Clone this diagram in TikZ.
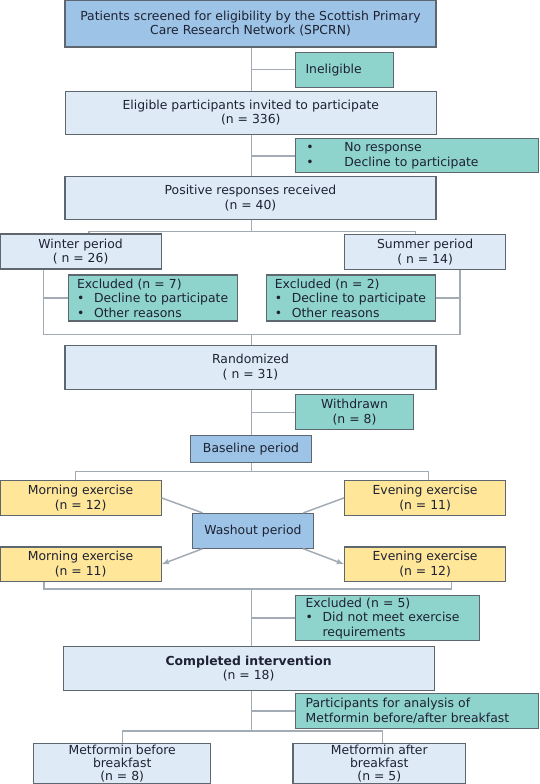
\documentclass[tikz,border=0pt]{standalone}
\usepackage{fontspec}
\setmainfont{DejaVu Sans}
\usepackage{xcolor}
\usetikzlibrary{positioning,arrows}
\definecolor{keyblue}{HTML}{9DC3E6}
\definecolor{paleblue}{HTML}{DEEBF7}
\definecolor{sideteal}{HTML}{8ED3CC}
\definecolor{armyellow}{HTML}{FFE699}
\definecolor{edgegrey}{HTML}{5E6670}
\definecolor{linkgrey}{HTML}{A3ABB4}
\definecolor{inkcol}{HTML}{1E2233}
\newcommand{\bul}[2]{\makebox[#1][l]{•}\mbox{#2}}

\begin{document}
\begin{tikzpicture}[x=1pt,y=-1pt,
    every node/.style={draw=edgegrey,line width=1.1pt,inner sep=0pt,text=inkcol,
      font=\fontsize{12.4}{14.6}\selectfont},
    mainbox/.style={fill=paleblue,align=center},
    keybox/.style={fill=keyblue,align=center},
    sidebox/.style={fill=sideteal,align=left},
    armbox/.style={fill=armyellow,align=center},
    link/.style={draw=linkgrey,line width=1.5pt},
    arr/.style={link,-latex}]
    \useasboundingbox (0,0) rectangle (540,784);
    \node[keybox,minimum width=371pt,minimum height=47pt] (Screen) at (250.5,23.5)
      {Patients screened for eligibility by the Scottish Primary\\Care Research Network (SPCRN)};
    \node[sidebox,minimum width=98pt,minimum height=35pt,text width=78pt] (Inel) at (344.5,69.7) {Ineligible};
    \node[mainbox,minimum width=371pt,minimum height=43pt] (Elig) at (250.8,112.8)
      {Eligible participants invited to participate\\(n = 336)};
    \node[sidebox,minimum width=243pt,minimum height=34pt,text width=221pt] (NoResp) at (416.9,155.9)
      {\bul{38pt}{No response}\\\bul{38pt}{Decline to participate}};
    \node[mainbox,minimum width=371pt,minimum height=43pt] (Pos) at (250.5,198)
      {Positive responses received\\(n = 40)};
    \node[mainbox,minimum width=161pt,minimum height=35pt] (Winter) at (80.6,251.5) {Winter period\\( n = 26)};
    \node[mainbox,minimum width=161pt,minimum height=35pt] (Summer) at (425.1,252) {Summer period\\( n = 14)};
    \node[sidebox,minimum width=169pt,minimum height=46pt,text width=152pt] (ExclW) at (153,298)
      {Excluded (n = 7)\\\bul{17pt}{Decline to participate}\\\bul{17pt}{Other reasons}};
    \node[sidebox,minimum width=169pt,minimum height=46pt,text width=152pt] (ExclS) at (350.8,298)
      {Excluded (n = 2)\\\bul{17pt}{Decline to participate}\\\bul{17pt}{Other reasons}};
    \node[mainbox,minimum width=371pt,minimum height=44pt] (Rand) at (250.5,367.4) {Randomized\\( n = 31)};
    \node[sidebox,align=center,minimum width=118pt,minimum height=35pt] (Withd) at (354.5,412.4) {Withdrawn\\(n = 8)};
    \node[keybox,minimum width=121pt,minimum height=27pt] (Base) at (251,448.6) {Baseline period};
    \node[armbox,minimum width=161pt,minimum height=34.5pt] (MornA) at (80.6,497.9) {Morning exercise\\(n = 12)};
    \node[armbox,minimum width=161pt,minimum height=34.5pt] (EveA) at (425.1,497.9) {Evening exercise\\(n = 11)};
    \node[keybox,minimum width=121.6pt,minimum height=34.7pt] (Wash) at (252.9,530.8) {Washout period};
    \node[armbox,minimum width=161pt,minimum height=34.5pt] (MornB) at (80.6,564.2) {Morning exercise\\(n = 11)};
    \node[armbox,minimum width=161pt,minimum height=34.5pt] (EveB) at (425.1,564.2) {Evening exercise\\(n = 12)};
    \node[sidebox,minimum width=184pt,minimum height=45pt,text width=164pt] (ExclEx) at (387.6,618.2)
      {Excluded (n = 5)\\\bul{17pt}{Did not meet exercise}\\\hspace*{17pt}requirements};
    \node[mainbox,minimum width=371pt,minimum height=43.7pt] (Compl) at (248.6,668.4)
      {\textbf{Completed intervention}\\(n = 18)};
    \node[sidebox,minimum width=243.4pt,minimum height=34.4pt,text width=223pt] (Anal) at (417.2,710.9)
      {Participants for analysis of\\Metformin before/after breakfast};
    \node[mainbox,minimum width=177pt,minimum height=40.5pt,font=\fontsize{12.4}{13}\selectfont]
      (MetBef) at (122.2,763.55) {Metformin before\\breakfast\\(n = 8)};
    \node[mainbox,minimum width=172.6pt,minimum height=40.5pt,font=\fontsize{12.4}{13}\selectfont]
      (MetAft) at (379.3,763.55) {Metformin after\\breakfast\\(n = 5)};
    % joints of the connectors
    \coordinate (Trunk) at (251.4,0);
    \coordinate (SplitW) at (88.8,231.4);
    \coordinate (SplitS) at (415.6,231.4);
    \coordinate (MergeW) at (43.7,334.5);
    \coordinate (MergeS) at (460,334.5);
    \coordinate (SplitM) at (75.4,471.7);
    \coordinate (SplitE) at (428.7,471.7);
    \coordinate (MergeM) at (44.1,589.1);
    \coordinate (MergeE) at (451.4,589.1);
    \coordinate (SplitB) at (122.6,730.9);
    \coordinate (SplitA) at (382.6,730.9);
    % main trunk
    \draw[link] (Trunk |- Screen.south) -- (Trunk |- Elig.north);
    \draw[link] (Inel.west) -- (Inel.west -| Trunk);
    \draw[link] (Trunk |- Elig.south) -- (Trunk |- Pos.north);
    \draw[link] (NoResp.west) -- (NoResp.west -| Trunk);
    \draw[link] (Trunk |- Pos.south) -- (Trunk |- SplitW);
    \draw[link] (Winter.north -| SplitW) -- (SplitW) -- (SplitS) -- (Summer.north -| SplitS);
    \draw[link] (Winter.south -| MergeW) -- (MergeW) -- (MergeS) -- (Summer.south -| MergeS);
    \draw[link] (ExclW.west) -- (ExclW.west -| MergeW);
    \draw[link] (ExclS.east) -- (ExclS.east -| MergeS);
    \draw[link] (Trunk |- MergeW) -- (Trunk |- Rand.north);
    \draw[link] (Trunk |- Rand.south) -- (Trunk |- Base.north);
    \draw[link] (Withd.west) -- (Withd.west -| Trunk);
    \draw[link] (Trunk |- Base.south) -- (Trunk |- SplitM);
    \draw[link] (MornA.north -| SplitM) -- (SplitM) -- (SplitE) -- (EveA.north -| SplitE);
    % crossover
    \draw[link] (MornA.east) -- ([xshift=11pt]Wash.north west);
    \draw[link] (EveA.west) -- ([xshift=-11pt]Wash.north east);
    \draw[arr] ([xshift=11pt]Wash.south west) -- (MornB.east);
    \draw[arr] ([xshift=-11pt]Wash.south east) -- (EveB.west);
    \draw[link] (MornB.south -| MergeM) -- (MergeM) -- (MergeE) -- (EveB.south -| MergeE);
    \draw[link] (Trunk |- MergeM) -- (Trunk |- Compl.north);
    \draw[link] (ExclEx.west) -- (ExclEx.west -| Trunk);
    \draw[link] (Trunk |- Compl.south) -- (Trunk |- SplitB);
    \draw[link] (Anal.west) -- (Anal.west -| Trunk);
    \draw[link] (MetBef.north -| SplitB) -- (SplitB) -- (SplitA) -- (MetAft.north -| SplitA);
  \end{tikzpicture}
\end{document}
